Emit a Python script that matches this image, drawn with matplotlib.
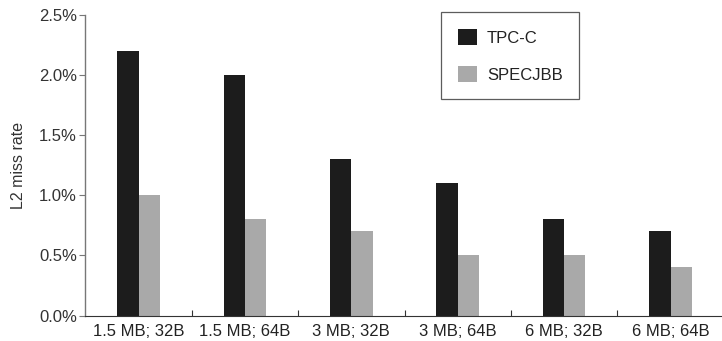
import matplotlib
matplotlib.use("Agg")
import matplotlib.pyplot as plt
import numpy as np
from matplotlib.ticker import FuncFormatter, FixedLocator

categories = ["1.5 MB; 32B", "1.5 MB; 64B", "3 MB; 32B", "3 MB; 64B", "6 MB; 32B", "6 MB; 64B"]
tpcc = [2.2, 2.0, 1.3, 1.1, 0.8, 0.7]
specjbb = [1.0, 0.8, 0.7, 0.5, 0.5, 0.4]
series_names = ["TPC-C", "SPECJBB"]
yticks = [0.0, 0.5, 1.0, 1.5, 2.0, 2.5]

plt.rcParams['font.family'] = ['Liberation Sans', 'DejaVu Sans']

W, H = 722, 341
fig = plt.figure(figsize=(W / 100, H / 100), dpi=100)
left_px, right_px, top_px, bot_px = 85.3, 723.7, 15, 315.5
ax = fig.add_axes([left_px / W, 1 - bot_px / H, (right_px - left_px) / W, (bot_px - top_px) / H])

x = np.arange(len(categories))
bw = 0.2
ax.bar(x - bw / 2, tpcc, bw, color="#1c1c1c", label=series_names[0])
ax.bar(x + bw / 2, specjbb, bw, color="#a9a9a9", label=series_names[1])

ax.set_xlim(-0.5, len(categories) - 0.5)
ax.set_ylim(0, 2.5)
ax.set_yticks(yticks)
ax.yaxis.set_major_formatter(FuncFormatter(lambda v, p: f"{v:.1f}%"))
ax.set_xticks(x)
ax.set_xticklabels(categories)
ax.xaxis.set_minor_locator(FixedLocator(np.arange(0.5, len(categories) - 0.5, 1.0)))

for s in ["top", "right"]:
    ax.spines[s].set_visible(False)
ax.spines["left"].set_color("#777777")
ax.spines["left"].set_linewidth(1.0)
ax.spines["bottom"].set_color("#333333")
ax.spines["bottom"].set_linewidth(0.8)

ax.tick_params(axis="y", direction="out", length=4, width=0.8, color="#777777",
               labelsize=12, labelcolor="#333333", pad=2)
ax.tick_params(axis="x", which="major", length=0, labelsize=12, labelcolor="#222222", pad=6)
ax.tick_params(axis="x", which="minor", direction="in", length=4, width=0.8, color="#333333")

ax.set_ylabel("L2 miss rate", fontsize=11.5, color="#333333", labelpad=9)

leg = ax.legend(loc="upper left", bbox_to_anchor=(441 / W, 1 - 12 / H), bbox_transform=fig.transFigure,
                borderaxespad=0, frameon=True, fancybox=False, fontsize=12,
                handlelength=1.15, handleheight=1.15, handletextpad=0.6, labelspacing=1.2,
                borderpad=1.0, edgecolor="#333333")
leg.get_frame().set_linewidth(0.9)
for t in leg.get_texts():
    t.set_color("#222222")

fig.savefig("out.png", dpi=100)
